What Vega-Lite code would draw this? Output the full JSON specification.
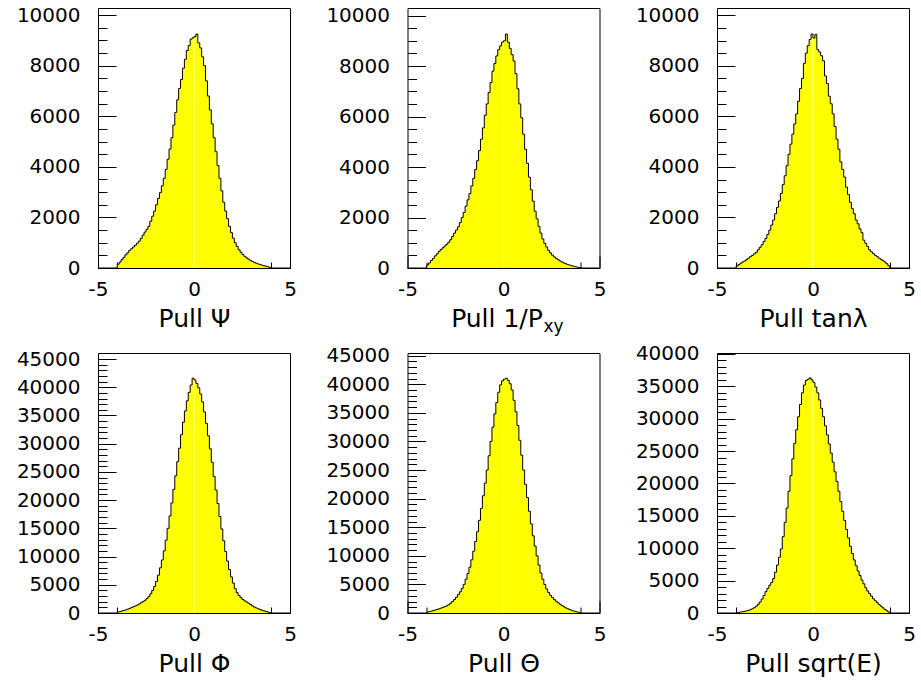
{
"$schema": "https://vega.github.io/schema/vega-lite/v6.json",
"padding": {"left": 15, "top": 4, "right": 5, "bottom": 5},
"background": "#ffffff",
"columns": 3,
"bounds": "flush",
"spacing": {"row": 85, "column": 117.5},
"data": {"values": [
{"p":"a","x":-5,"n":0},{"p":"a","x":-4,"n":150},{"p":"a","x":-3.9,"n":230},{"p":"a","x":-3.8,"n":330},{"p":"a","x":-3.7,"n":420},{"p":"a","x":-3.6,"n":520},{"p":"a","x":-3.5,"n":600},{"p":"a","x":-3.4,"n":700},{"p":"a","x":-3.3,"n":760},{"p":"a","x":-3.2,"n":830},{"p":"a","x":-3.1,"n":900},
{"p":"a","x":-3,"n":980},{"p":"a","x":-2.9,"n":1060},{"p":"a","x":-2.8,"n":1170},{"p":"a","x":-2.7,"n":1300},{"p":"a","x":-2.6,"n":1420},{"p":"a","x":-2.5,"n":1530},{"p":"a","x":-2.4,"n":1650},{"p":"a","x":-2.3,"n":1850},{"p":"a","x":-2.2,"n":2050},{"p":"a","x":-2.1,"n":2250},
{"p":"a","x":-2,"n":2500},{"p":"a","x":-1.9,"n":2750},{"p":"a","x":-1.8,"n":2980},{"p":"a","x":-1.7,"n":3250},{"p":"a","x":-1.6,"n":3550},{"p":"a","x":-1.5,"n":3900},{"p":"a","x":-1.4,"n":4300},{"p":"a","x":-1.3,"n":4700},{"p":"a","x":-1.2,"n":5150},{"p":"a","x":-1.1,"n":5650},
{"p":"a","x":-1,"n":6150},{"p":"a","x":-0.9,"n":6650},{"p":"a","x":-0.8,"n":7100},{"p":"a","x":-0.7,"n":7450},{"p":"a","x":-0.6,"n":7900},{"p":"a","x":-0.5,"n":8250},{"p":"a","x":-0.4,"n":8600},{"p":"a","x":-0.3,"n":8800},{"p":"a","x":-0.2,"n":9050},{"p":"a","x":-0.1,"n":9100},
{"p":"a","x":0,"n":9150},{"p":"a","x":0.1,"n":9250},{"p":"a","x":0.2,"n":8900},{"p":"a","x":0.3,"n":8700},{"p":"a","x":0.4,"n":8350},{"p":"a","x":0.5,"n":8000},{"p":"a","x":0.6,"n":7400},{"p":"a","x":0.7,"n":6800},{"p":"a","x":0.8,"n":6250},{"p":"a","x":0.9,"n":5700},
{"p":"a","x":1,"n":5150},{"p":"a","x":1.1,"n":4600},{"p":"a","x":1.2,"n":4050},{"p":"a","x":1.3,"n":3550},{"p":"a","x":1.4,"n":3050},{"p":"a","x":1.5,"n":2600},{"p":"a","x":1.6,"n":2250},{"p":"a","x":1.7,"n":1950},{"p":"a","x":1.8,"n":1650},{"p":"a","x":1.9,"n":1400},
{"p":"a","x":2,"n":1180},{"p":"a","x":2.1,"n":1000},{"p":"a","x":2.2,"n":850},{"p":"a","x":2.3,"n":720},{"p":"a","x":2.4,"n":620},{"p":"a","x":2.5,"n":530},{"p":"a","x":2.6,"n":460},{"p":"a","x":2.7,"n":400},{"p":"a","x":2.8,"n":350},{"p":"a","x":2.9,"n":300},
{"p":"a","x":3,"n":260},{"p":"a","x":3.1,"n":220},{"p":"a","x":3.2,"n":190},{"p":"a","x":3.3,"n":160},{"p":"a","x":3.4,"n":135},{"p":"a","x":3.5,"n":110},{"p":"a","x":3.6,"n":90},{"p":"a","x":3.7,"n":70},{"p":"a","x":3.8,"n":50},{"p":"a","x":3.9,"n":30},{"p":"a","x":4,"n":0},{"p":"a","x":5,"n":0},

{"p":"b","x":-5,"n":0},{"p":"b","x":-4,"n":120},{"p":"b","x":-3.9,"n":200},{"p":"b","x":-3.8,"n":300},{"p":"b","x":-3.7,"n":380},{"p":"b","x":-3.6,"n":480},{"p":"b","x":-3.5,"n":560},{"p":"b","x":-3.4,"n":650},{"p":"b","x":-3.3,"n":730},{"p":"b","x":-3.2,"n":800},{"p":"b","x":-3.1,"n":870},
{"p":"b","x":-3,"n":940},{"p":"b","x":-2.9,"n":1020},{"p":"b","x":-2.8,"n":1120},{"p":"b","x":-2.7,"n":1250},{"p":"b","x":-2.6,"n":1380},{"p":"b","x":-2.5,"n":1500},{"p":"b","x":-2.4,"n":1630},{"p":"b","x":-2.3,"n":1800},{"p":"b","x":-2.2,"n":2000},{"p":"b","x":-2.1,"n":2200},
{"p":"b","x":-2,"n":2450},{"p":"b","x":-1.9,"n":2700},{"p":"b","x":-1.8,"n":2950},{"p":"b","x":-1.7,"n":3250},{"p":"b","x":-1.6,"n":3550},{"p":"b","x":-1.5,"n":3900},{"p":"b","x":-1.4,"n":4250},{"p":"b","x":-1.3,"n":4650},{"p":"b","x":-1.2,"n":5100},{"p":"b","x":-1.1,"n":5550},
{"p":"b","x":-1,"n":6050},{"p":"b","x":-0.9,"n":6500},{"p":"b","x":-0.8,"n":6950},{"p":"b","x":-0.7,"n":7350},{"p":"b","x":-0.6,"n":7800},{"p":"b","x":-0.5,"n":8100},{"p":"b","x":-0.4,"n":8400},{"p":"b","x":-0.3,"n":8650},{"p":"b","x":-0.2,"n":8800},{"p":"b","x":-0.1,"n":8950},
{"p":"b","x":0,"n":9000},{"p":"b","x":0.1,"n":9270},{"p":"b","x":0.2,"n":8950},{"p":"b","x":0.3,"n":8700},{"p":"b","x":0.4,"n":8450},{"p":"b","x":0.5,"n":8200},{"p":"b","x":0.6,"n":7700},{"p":"b","x":0.7,"n":7100},{"p":"b","x":0.8,"n":6500},{"p":"b","x":0.9,"n":5950},
{"p":"b","x":1,"n":5300},{"p":"b","x":1.1,"n":4700},{"p":"b","x":1.2,"n":4150},{"p":"b","x":1.3,"n":3600},{"p":"b","x":1.4,"n":3100},{"p":"b","x":1.5,"n":2650},{"p":"b","x":1.6,"n":2250},{"p":"b","x":1.7,"n":1950},{"p":"b","x":1.8,"n":1650},{"p":"b","x":1.9,"n":1380},
{"p":"b","x":2,"n":1150},{"p":"b","x":2.1,"n":980},{"p":"b","x":2.2,"n":830},{"p":"b","x":2.3,"n":700},{"p":"b","x":2.4,"n":600},{"p":"b","x":2.5,"n":510},{"p":"b","x":2.6,"n":440},{"p":"b","x":2.7,"n":380},{"p":"b","x":2.8,"n":330},{"p":"b","x":2.9,"n":280},
{"p":"b","x":3,"n":240},{"p":"b","x":3.1,"n":200},{"p":"b","x":3.2,"n":170},{"p":"b","x":3.3,"n":140},{"p":"b","x":3.4,"n":115},{"p":"b","x":3.5,"n":90},{"p":"b","x":3.6,"n":70},{"p":"b","x":3.7,"n":50},{"p":"b","x":3.8,"n":35},{"p":"b","x":3.9,"n":20},{"p":"b","x":4,"n":0},{"p":"b","x":5,"n":0},

{"p":"c","x":-5,"n":0},{"p":"c","x":-4,"n":80},{"p":"c","x":-3.9,"n":140},{"p":"c","x":-3.8,"n":190},{"p":"c","x":-3.7,"n":240},{"p":"c","x":-3.6,"n":280},{"p":"c","x":-3.5,"n":330},{"p":"c","x":-3.4,"n":390},{"p":"c","x":-3.3,"n":450},{"p":"c","x":-3.2,"n":500},{"p":"c","x":-3.1,"n":560},
{"p":"c","x":-3,"n":620},{"p":"c","x":-2.9,"n":720},{"p":"c","x":-2.8,"n":820},{"p":"c","x":-2.7,"n":920},{"p":"c","x":-2.6,"n":1050},{"p":"c","x":-2.5,"n":1170},{"p":"c","x":-2.4,"n":1330},{"p":"c","x":-2.3,"n":1500},{"p":"c","x":-2.2,"n":1700},{"p":"c","x":-2.1,"n":1900},
{"p":"c","x":-2,"n":2150},{"p":"c","x":-1.9,"n":2400},{"p":"c","x":-1.8,"n":2650},{"p":"c","x":-1.7,"n":2950},{"p":"c","x":-1.6,"n":3300},{"p":"c","x":-1.5,"n":3650},{"p":"c","x":-1.4,"n":4050},{"p":"c","x":-1.3,"n":4500},{"p":"c","x":-1.2,"n":4900},{"p":"c","x":-1.1,"n":5300},
{"p":"c","x":-1,"n":5700},{"p":"c","x":-0.9,"n":6100},{"p":"c","x":-0.8,"n":6600},{"p":"c","x":-0.7,"n":7100},{"p":"c","x":-0.6,"n":7500},{"p":"c","x":-0.5,"n":8100},{"p":"c","x":-0.4,"n":8500},{"p":"c","x":-0.3,"n":8800},{"p":"c","x":-0.2,"n":9050},{"p":"c","x":-0.1,"n":9260},
{"p":"c","x":0,"n":9100},{"p":"c","x":0.1,"n":9250},{"p":"c","x":0.2,"n":8650},{"p":"c","x":0.3,"n":8550},{"p":"c","x":0.4,"n":8400},{"p":"c","x":0.5,"n":8200},{"p":"c","x":0.6,"n":7600},{"p":"c","x":0.7,"n":7300},{"p":"c","x":0.8,"n":6800},{"p":"c","x":0.9,"n":6500},
{"p":"c","x":1,"n":6100},{"p":"c","x":1.1,"n":5600},{"p":"c","x":1.2,"n":5100},{"p":"c","x":1.3,"n":4700},{"p":"c","x":1.4,"n":4200},{"p":"c","x":1.5,"n":3900},{"p":"c","x":1.6,"n":3600},{"p":"c","x":1.7,"n":3200},{"p":"c","x":1.8,"n":2900},{"p":"c","x":1.9,"n":2600},
{"p":"c","x":2,"n":2350},{"p":"c","x":2.1,"n":2150},{"p":"c","x":2.2,"n":1900},{"p":"c","x":2.3,"n":1750},{"p":"c","x":2.4,"n":1550},{"p":"c","x":2.5,"n":1400},{"p":"c","x":2.6,"n":1100},{"p":"c","x":2.7,"n":980},{"p":"c","x":2.8,"n":850},{"p":"c","x":2.9,"n":720},
{"p":"c","x":3,"n":640},{"p":"c","x":3.1,"n":570},{"p":"c","x":3.2,"n":500},{"p":"c","x":3.3,"n":450},{"p":"c","x":3.4,"n":390},{"p":"c","x":3.5,"n":340},{"p":"c","x":3.6,"n":290},{"p":"c","x":3.7,"n":240},{"p":"c","x":3.8,"n":170},{"p":"c","x":3.9,"n":90},{"p":"c","x":4,"n":0},{"p":"c","x":5,"n":0},

{"p":"d","x":-5,"n":0},{"p":"d","x":-4,"n":150},{"p":"d","x":-3.9,"n":250},{"p":"d","x":-3.8,"n":350},{"p":"d","x":-3.7,"n":450},{"p":"d","x":-3.6,"n":550},{"p":"d","x":-3.5,"n":680},{"p":"d","x":-3.4,"n":800},{"p":"d","x":-3.3,"n":950},{"p":"d","x":-3.2,"n":1100},{"p":"d","x":-3.1,"n":1250},
{"p":"d","x":-3,"n":1400},{"p":"d","x":-2.9,"n":1600},{"p":"d","x":-2.8,"n":1800},{"p":"d","x":-2.7,"n":2000},{"p":"d","x":-2.6,"n":2250},{"p":"d","x":-2.5,"n":2550},{"p":"d","x":-2.4,"n":2900},{"p":"d","x":-2.3,"n":3400},{"p":"d","x":-2.2,"n":4000},{"p":"d","x":-2.1,"n":4700},
{"p":"d","x":-2,"n":5600},{"p":"d","x":-1.9,"n":6700},{"p":"d","x":-1.8,"n":8000},{"p":"d","x":-1.7,"n":9400},{"p":"d","x":-1.6,"n":11000},{"p":"d","x":-1.5,"n":12900},{"p":"d","x":-1.4,"n":15000},{"p":"d","x":-1.3,"n":17200},{"p":"d","x":-1.2,"n":19500},{"p":"d","x":-1.1,"n":21900},
{"p":"d","x":-1,"n":24300},{"p":"d","x":-0.9,"n":26800},{"p":"d","x":-0.8,"n":29200},{"p":"d","x":-0.7,"n":31600},{"p":"d","x":-0.6,"n":33800},{"p":"d","x":-0.5,"n":35800},{"p":"d","x":-0.4,"n":37600},{"p":"d","x":-0.3,"n":39100},{"p":"d","x":-0.2,"n":40400},{"p":"d","x":-0.1,"n":41600},
{"p":"d","x":0,"n":41300},{"p":"d","x":0.1,"n":40700},{"p":"d","x":0.2,"n":39900},{"p":"d","x":0.3,"n":38800},{"p":"d","x":0.4,"n":37400},{"p":"d","x":0.5,"n":35600},{"p":"d","x":0.6,"n":33600},{"p":"d","x":0.7,"n":31400},{"p":"d","x":0.8,"n":29100},{"p":"d","x":0.9,"n":26700},
{"p":"d","x":1,"n":24200},{"p":"d","x":1.1,"n":21800},{"p":"d","x":1.2,"n":19400},{"p":"d","x":1.3,"n":17100},{"p":"d","x":1.4,"n":14900},{"p":"d","x":1.5,"n":12800},{"p":"d","x":1.6,"n":10900},{"p":"d","x":1.7,"n":9200},{"p":"d","x":1.8,"n":7700},{"p":"d","x":1.9,"n":6400},
{"p":"d","x":2,"n":5300},{"p":"d","x":2.1,"n":4300},{"p":"d","x":2.2,"n":3600},{"p":"d","x":2.3,"n":3100},{"p":"d","x":2.4,"n":2700},{"p":"d","x":2.5,"n":2400},{"p":"d","x":2.6,"n":2150},{"p":"d","x":2.7,"n":1950},{"p":"d","x":2.8,"n":1750},{"p":"d","x":2.9,"n":1500},
{"p":"d","x":3,"n":1250},{"p":"d","x":3.1,"n":1050},{"p":"d","x":3.2,"n":900},{"p":"d","x":3.3,"n":750},{"p":"d","x":3.4,"n":600},{"p":"d","x":3.5,"n":480},{"p":"d","x":3.6,"n":380},{"p":"d","x":3.7,"n":280},{"p":"d","x":3.8,"n":180},{"p":"d","x":3.9,"n":80},{"p":"d","x":4,"n":0},{"p":"d","x":5,"n":0},

{"p":"e","x":-5,"n":0},{"p":"e","x":-4,"n":150},{"p":"e","x":-3.9,"n":250},{"p":"e","x":-3.8,"n":330},{"p":"e","x":-3.7,"n":420},{"p":"e","x":-3.6,"n":520},{"p":"e","x":-3.5,"n":620},{"p":"e","x":-3.4,"n":730},{"p":"e","x":-3.3,"n":850},{"p":"e","x":-3.2,"n":980},{"p":"e","x":-3.1,"n":1120},
{"p":"e","x":-3,"n":1250},{"p":"e","x":-2.9,"n":1450},{"p":"e","x":-2.8,"n":1700},{"p":"e","x":-2.7,"n":2000},{"p":"e","x":-2.6,"n":2350},{"p":"e","x":-2.5,"n":2750},{"p":"e","x":-2.4,"n":3200},{"p":"e","x":-2.3,"n":3700},{"p":"e","x":-2.2,"n":4300},{"p":"e","x":-2.1,"n":5000},
{"p":"e","x":-2,"n":5900},{"p":"e","x":-1.9,"n":6900},{"p":"e","x":-1.8,"n":8000},{"p":"e","x":-1.7,"n":9300},{"p":"e","x":-1.6,"n":10800},{"p":"e","x":-1.5,"n":12500},{"p":"e","x":-1.4,"n":14200},{"p":"e","x":-1.3,"n":16200},{"p":"e","x":-1.2,"n":18300},{"p":"e","x":-1.1,"n":20500},
{"p":"e","x":-1,"n":22700},{"p":"e","x":-0.9,"n":25000},{"p":"e","x":-0.8,"n":27500},{"p":"e","x":-0.7,"n":30000},{"p":"e","x":-0.6,"n":32500},{"p":"e","x":-0.5,"n":34800},{"p":"e","x":-0.4,"n":36800},{"p":"e","x":-0.3,"n":38600},{"p":"e","x":-0.2,"n":39900},{"p":"e","x":-0.1,"n":40600},
{"p":"e","x":0,"n":40900},{"p":"e","x":0.1,"n":41050},{"p":"e","x":0.2,"n":40700},{"p":"e","x":0.3,"n":40100},{"p":"e","x":0.4,"n":39000},{"p":"e","x":0.5,"n":37200},{"p":"e","x":0.6,"n":35200},{"p":"e","x":0.7,"n":32800},{"p":"e","x":0.8,"n":30200},{"p":"e","x":0.9,"n":27600},
{"p":"e","x":1,"n":25000},{"p":"e","x":1.1,"n":22500},{"p":"e","x":1.2,"n":20200},{"p":"e","x":1.3,"n":17800},{"p":"e","x":1.4,"n":15600},{"p":"e","x":1.5,"n":13500},{"p":"e","x":1.6,"n":11700},{"p":"e","x":1.7,"n":10000},{"p":"e","x":1.8,"n":8400},{"p":"e","x":1.9,"n":7000},
{"p":"e","x":2,"n":5900},{"p":"e","x":2.1,"n":5000},{"p":"e","x":2.2,"n":4200},{"p":"e","x":2.3,"n":3600},{"p":"e","x":2.4,"n":3100},{"p":"e","x":2.5,"n":2700},{"p":"e","x":2.6,"n":2350},{"p":"e","x":2.7,"n":2050},{"p":"e","x":2.8,"n":1800},{"p":"e","x":2.9,"n":1550},
{"p":"e","x":3,"n":1300},{"p":"e","x":3.1,"n":1100},{"p":"e","x":3.2,"n":900},{"p":"e","x":3.3,"n":750},{"p":"e","x":3.4,"n":600},{"p":"e","x":3.5,"n":480},{"p":"e","x":3.6,"n":370},{"p":"e","x":3.7,"n":270},{"p":"e","x":3.8,"n":180},{"p":"e","x":3.9,"n":90},{"p":"e","x":4,"n":0},{"p":"e","x":5,"n":0},

{"p":"f","x":-5,"n":0},{"p":"f","x":-4,"n":50},{"p":"f","x":-3.9,"n":100},{"p":"f","x":-3.8,"n":150},{"p":"f","x":-3.7,"n":200},{"p":"f","x":-3.6,"n":260},{"p":"f","x":-3.5,"n":330},{"p":"f","x":-3.4,"n":420},{"p":"f","x":-3.3,"n":520},{"p":"f","x":-3.2,"n":650},{"p":"f","x":-3.1,"n":820},
{"p":"f","x":-3,"n":1050},{"p":"f","x":-2.9,"n":1350},{"p":"f","x":-2.8,"n":1700},{"p":"f","x":-2.7,"n":2150},{"p":"f","x":-2.6,"n":2700},{"p":"f","x":-2.5,"n":3300},{"p":"f","x":-2.4,"n":3800},{"p":"f","x":-2.3,"n":4300},{"p":"f","x":-2.2,"n":4700},{"p":"f","x":-2.1,"n":5300},
{"p":"f","x":-2,"n":6300},{"p":"f","x":-1.9,"n":7400},{"p":"f","x":-1.8,"n":8600},{"p":"f","x":-1.7,"n":9900},{"p":"f","x":-1.6,"n":11800},{"p":"f","x":-1.5,"n":14000},{"p":"f","x":-1.4,"n":16200},{"p":"f","x":-1.3,"n":18800},{"p":"f","x":-1.2,"n":21200},{"p":"f","x":-1.1,"n":23800},
{"p":"f","x":-1,"n":26200},{"p":"f","x":-0.9,"n":28300},{"p":"f","x":-0.8,"n":30300},{"p":"f","x":-0.7,"n":32200},{"p":"f","x":-0.6,"n":34000},{"p":"f","x":-0.5,"n":35200},{"p":"f","x":-0.4,"n":35900},{"p":"f","x":-0.3,"n":36100},{"p":"f","x":-0.2,"n":36300},{"p":"f","x":-0.1,"n":36000},
{"p":"f","x":0,"n":35600},{"p":"f","x":0.1,"n":34900},{"p":"f","x":0.2,"n":34000},{"p":"f","x":0.3,"n":32900},{"p":"f","x":0.4,"n":31600},{"p":"f","x":0.5,"n":30300},{"p":"f","x":0.6,"n":28900},{"p":"f","x":0.7,"n":27500},{"p":"f","x":0.8,"n":26100},{"p":"f","x":0.9,"n":24700},
{"p":"f","x":1,"n":23300},{"p":"f","x":1.1,"n":21800},{"p":"f","x":1.2,"n":20300},{"p":"f","x":1.3,"n":18800},{"p":"f","x":1.4,"n":17200},{"p":"f","x":1.5,"n":15700},{"p":"f","x":1.6,"n":14300},{"p":"f","x":1.7,"n":12900},{"p":"f","x":1.8,"n":11600},{"p":"f","x":1.9,"n":10300},
{"p":"f","x":2,"n":9200},{"p":"f","x":2.1,"n":8200},{"p":"f","x":2.2,"n":7300},{"p":"f","x":2.3,"n":6500},{"p":"f","x":2.4,"n":5800},{"p":"f","x":2.5,"n":5100},{"p":"f","x":2.6,"n":4500},{"p":"f","x":2.7,"n":3900},{"p":"f","x":2.8,"n":3400},{"p":"f","x":2.9,"n":3000},
{"p":"f","x":3,"n":2600},{"p":"f","x":3.1,"n":2200},{"p":"f","x":3.2,"n":1900},{"p":"f","x":3.3,"n":1600},{"p":"f","x":3.4,"n":1300},{"p":"f","x":3.5,"n":1050},{"p":"f","x":3.6,"n":800},{"p":"f","x":3.7,"n":550},{"p":"f","x":3.8,"n":350},{"p":"f","x":3.9,"n":150},{"p":"f","x":4,"n":0},{"p":"f","x":5,"n":0}
]},
"concat": [
{"width":192,"height":260,"transform":[{"filter":"datum.p == 'a'"}],
 "encoding":{
  "x":{"field":"x","type":"quantitative","scale":{"domain":[-5,5],"nice":false,"zero":false},
   "axis":{"title":"Pull Ψ","values":[-5,-4,-3,-2,-1,0,1,2,3,4,5],"labelExpr":"datum.value == 0 ? '0' : datum.value == 5 ? '5' : datum.value == -5 ? '-5' : ''","tickSize":{"condition":{"test":"datum.value % 5 === 0","value":-12},"value":-6},"labelPadding":23,"titlePadding":1}},
  "y":{"field":"n","type":"quantitative","scale":{"domain":[0,10280],"nice":false},
   "axis":{"title":null,"values":[0,500,1000,1500,2000,2500,3000,3500,4000,4500,5000,5500,6000,6500,7000,7500,8000,8500,9000,9500,10000],"labelExpr":"datum.value % 2000 === 0 ? '' + datum.value : ''","tickSize":{"condition":{"test":"datum.value % 2000 === 0","value":-18},"value":-9},"labelPadding":36}}},
 "layer":[
  {"mark":{"type":"area","interpolate":"step-after","color":"#ffff00","opacity":1}},
  {"transform":[{"filter":"datum.x == 0"}],"mark":{"type":"rule","color":"#ffffc0","strokeWidth":1},"encoding":{"y2":{"datum":0}}},
  {"mark":{"type":"line","interpolate":"step-after","color":"#000000","strokeWidth":1}}
 ]},
{"width":192,"height":260,"transform":[{"filter":"datum.p == 'b'"}],
 "title":{"text":"xy","orient":"bottom","anchor":"middle","frame":"group","fontSize":17,"dx":50,"offset":1,"baseline":"alphabetic"},
 "encoding":{
  "x":{"field":"x","type":"quantitative","scale":{"domain":[-5,5],"nice":false,"zero":false},
   "axis":{"title":"Pull 1/P","titleX":89,"values":[-5,-4,-3,-2,-1,0,1,2,3,4,5],"labelExpr":"datum.value == 0 ? '0' : datum.value == 5 ? '5' : datum.value == -5 ? '-5' : ''","tickSize":{"condition":{"test":"datum.value % 5 === 0","value":-12},"value":-6},"labelPadding":23,"titlePadding":1}},
  "y":{"field":"n","type":"quantitative","scale":{"domain":[0,10300],"nice":false},
   "axis":{"title":null,"values":[0,500,1000,1500,2000,2500,3000,3500,4000,4500,5000,5500,6000,6500,7000,7500,8000,8500,9000,9500,10000],"labelExpr":"datum.value % 2000 === 0 ? '' + datum.value : ''","tickSize":{"condition":{"test":"datum.value % 2000 === 0","value":-18},"value":-9},"labelPadding":36}}},
 "layer":[
  {"mark":{"type":"area","interpolate":"step-after","color":"#ffff00","opacity":1}},
  {"transform":[{"filter":"datum.x == 0"}],"mark":{"type":"rule","color":"#ffffc0","strokeWidth":1},"encoding":{"y2":{"datum":0}}},
  {"mark":{"type":"line","interpolate":"step-after","color":"#000000","strokeWidth":1}}
 ]},
{"width":192,"height":260,"transform":[{"filter":"datum.p == 'c'"}],
 "encoding":{
  "x":{"field":"x","type":"quantitative","scale":{"domain":[-5,5],"nice":false,"zero":false},
   "axis":{"title":"Pull tanλ","values":[-5,-4,-3,-2,-1,0,1,2,3,4,5],"labelExpr":"datum.value == 0 ? '0' : datum.value == 5 ? '5' : datum.value == -5 ? '-5' : ''","tickSize":{"condition":{"test":"datum.value % 5 === 0","value":-12},"value":-6},"labelPadding":23,"titlePadding":1}},
  "y":{"field":"n","type":"quantitative","scale":{"domain":[0,10290],"nice":false},
   "axis":{"title":null,"values":[0,500,1000,1500,2000,2500,3000,3500,4000,4500,5000,5500,6000,6500,7000,7500,8000,8500,9000,9500,10000],"labelExpr":"datum.value % 2000 === 0 ? '' + datum.value : ''","tickSize":{"condition":{"test":"datum.value % 2000 === 0","value":-18},"value":-9},"labelPadding":36}}},
 "layer":[
  {"mark":{"type":"area","interpolate":"step-after","color":"#ffff00","opacity":1}},
  {"transform":[{"filter":"datum.x == 0"}],"mark":{"type":"rule","color":"#ffffc0","strokeWidth":1},"encoding":{"y2":{"datum":0}}},
  {"mark":{"type":"line","interpolate":"step-after","color":"#000000","strokeWidth":1}}
 ]},
{"width":192,"height":260,"transform":[{"filter":"datum.p == 'd'"}],
 "encoding":{
  "x":{"field":"x","type":"quantitative","scale":{"domain":[-5,5],"nice":false,"zero":false},
   "axis":{"title":"Pull Φ","values":[-5,-4,-3,-2,-1,0,1,2,3,4,5],"labelExpr":"datum.value == 0 ? '0' : datum.value == 5 ? '5' : datum.value == -5 ? '-5' : ''","tickSize":{"condition":{"test":"datum.value % 5 === 0","value":-12},"value":-6},"labelPadding":23,"titlePadding":1}},
  "y":{"field":"n","type":"quantitative","scale":{"domain":[0,46070],"nice":false},
   "axis":{"title":null,"values":[0,1000,2000,3000,4000,5000,6000,7000,8000,9000,10000,11000,12000,13000,14000,15000,16000,17000,18000,19000,20000,21000,22000,23000,24000,25000,26000,27000,28000,29000,30000,31000,32000,33000,34000,35000,36000,37000,38000,39000,40000,41000,42000,43000,44000,45000],"labelExpr":"datum.value % 5000 === 0 ? '' + datum.value : ''","tickSize":{"condition":{"test":"datum.value % 5000 === 0","value":-18},"value":-9},"labelPadding":36}}},
 "layer":[
  {"mark":{"type":"area","interpolate":"step-after","color":"#ffff00","opacity":1}},
  {"transform":[{"filter":"datum.x == 0"}],"mark":{"type":"rule","color":"#ffffc0","strokeWidth":1},"encoding":{"y2":{"datum":0}}},
  {"mark":{"type":"line","interpolate":"step-after","color":"#000000","strokeWidth":1}}
 ]},
{"width":192,"height":260,"transform":[{"filter":"datum.p == 'e'"}],
 "encoding":{
  "x":{"field":"x","type":"quantitative","scale":{"domain":[-5,5],"nice":false,"zero":false},
   "axis":{"title":"Pull Θ","values":[-5,-4,-3,-2,-1,0,1,2,3,4,5],"labelExpr":"datum.value == 0 ? '0' : datum.value == 5 ? '5' : datum.value == -5 ? '-5' : ''","tickSize":{"condition":{"test":"datum.value % 5 === 0","value":-12},"value":-6},"labelPadding":23,"titlePadding":1}},
  "y":{"field":"n","type":"quantitative","scale":{"domain":[0,45470],"nice":false},
   "axis":{"title":null,"values":[0,1000,2000,3000,4000,5000,6000,7000,8000,9000,10000,11000,12000,13000,14000,15000,16000,17000,18000,19000,20000,21000,22000,23000,24000,25000,26000,27000,28000,29000,30000,31000,32000,33000,34000,35000,36000,37000,38000,39000,40000,41000,42000,43000,44000,45000],"labelExpr":"datum.value % 5000 === 0 ? '' + datum.value : ''","tickSize":{"condition":{"test":"datum.value % 5000 === 0","value":-18},"value":-9},"labelPadding":36}}},
 "layer":[
  {"mark":{"type":"area","interpolate":"step-after","color":"#ffff00","opacity":1}},
  {"transform":[{"filter":"datum.x == 0"}],"mark":{"type":"rule","color":"#ffffc0","strokeWidth":1},"encoding":{"y2":{"datum":0}}},
  {"mark":{"type":"line","interpolate":"step-after","color":"#000000","strokeWidth":1}}
 ]},
{"width":192,"height":260,"transform":[{"filter":"datum.p == 'f'"}],
 "encoding":{
  "x":{"field":"x","type":"quantitative","scale":{"domain":[-5,5],"nice":false,"zero":false},
   "axis":{"title":"Pull sqrt(E)","values":[-5,-4,-3,-2,-1,0,1,2,3,4,5],"labelExpr":"datum.value == 0 ? '0' : datum.value == 5 ? '5' : datum.value == -5 ? '-5' : ''","tickSize":{"condition":{"test":"datum.value % 5 === 0","value":-12},"value":-6},"labelPadding":23,"titlePadding":1}},
  "y":{"field":"n","type":"quantitative","scale":{"domain":[0,40150],"nice":false},
   "axis":{"title":null,"values":[0,1000,2000,3000,4000,5000,6000,7000,8000,9000,10000,11000,12000,13000,14000,15000,16000,17000,18000,19000,20000,21000,22000,23000,24000,25000,26000,27000,28000,29000,30000,31000,32000,33000,34000,35000,36000,37000,38000,39000,40000],"labelExpr":"datum.value % 5000 === 0 ? '' + datum.value : ''","tickSize":{"condition":{"test":"datum.value % 5000 === 0","value":-18},"value":-9},"labelPadding":36}}},
 "layer":[
  {"mark":{"type":"area","interpolate":"step-after","color":"#ffff00","opacity":1}},
  {"transform":[{"filter":"datum.x == 0"}],"mark":{"type":"rule","color":"#ffffc0","strokeWidth":1},"encoding":{"y2":{"datum":0}}},
  {"mark":{"type":"line","interpolate":"step-after","color":"#000000","strokeWidth":1}}
 ]}
],
"config": {
 "view": {"stroke":"#000000","strokeWidth":1,"fill":"#ffffff"},
 "axis": {"domain":false,"grid":false,"tickColor":"#000000","tickWidth":1,"labelColor":"#000000","labelFont":"DejaVu Sans","labelFontSize":20,"titleFont":"DejaVu Sans","titleFontSize":25,"titleFontWeight":"normal","titleColor":"#000000","labelFlush":false,"labelOverlap":false},
 "title": {"font":"DejaVu Sans","fontWeight":"normal","color":"#000000"}
}
}
